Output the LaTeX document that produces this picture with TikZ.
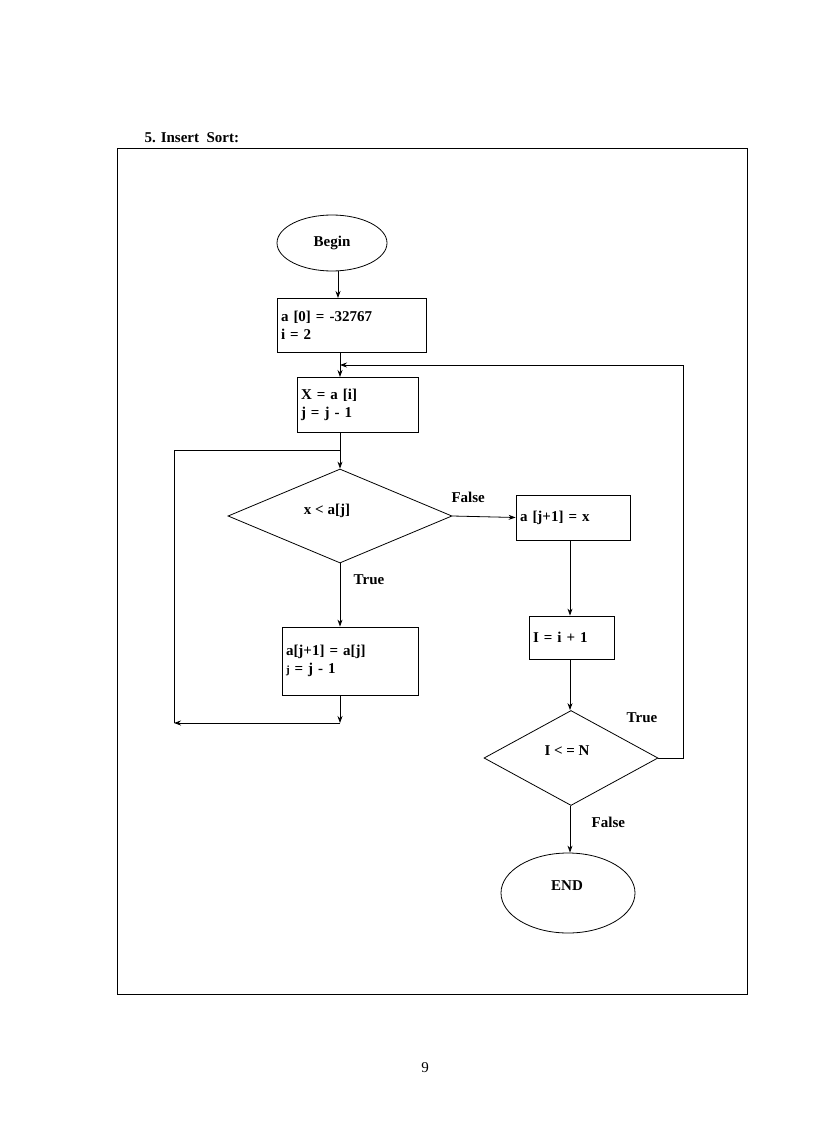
\documentclass[tikz,border=0pt]{standalone}
\usepackage{fontspec}
\setmainfont{Liberation Serif}
\usetikzlibrary{shapes.geometric,arrows.meta}
\begin{document}
\begin{tikzpicture}[x=1pt,y=-1pt,
  every node/.style={font=\fontsize{15}{18}\selectfont\bfseries},
  box/.style={draw,thick,align=left,inner sep=0pt},
  lab/.style={draw=none},
  arr/.style={thick,-{Stealth[length=7pt,width=5pt]}},
  ln/.style={thick}]
\path[use as bounding box] (0,0) rectangle (816,1123);
\node[anchor=west] (title) at (141,138) {5. Insert\ \ Sort:};
\draw[thick] (117,148) rectangle (747,994);
\node[draw,thick,ellipse,minimum width=110,minimum height=56] (begin) at (332,243) {Begin};
\node[box,minimum width=149,minimum height=54,text width=141] (b1) at (351.5,325) {a [0] = -32767\\ i = 2};
\node[box,minimum width=121,minimum height=55,text width=113] (b2) at (357.5,404.5) {X = a [i]\\ j = j - 1};
\node[draw,thick,diamond,aspect=2.38,minimum width=224,minimum height=94,inner sep=0pt] (d1) at (340,516) {};
\node at (327,511) {x < a[j]};
\node[box,minimum width=136,minimum height=68,text width=128] (b3) at (350,661) {a[j+1] = a[j]\\ {\fontsize{11}{18}\selectfont j} = j - 1};
\node[box,minimum width=114,minimum height=45,text width=106] (b4) at (573,517.5) {a [j+1] = x};
\node[box,minimum width=85,minimum height=43,text width=77] (b5) at (571.5,637.5) {I = i + 1};
\node[draw,thick,diamond,aspect=1.83,minimum width=174,minimum height=95,inner sep=0pt] (d2) at (571,758) {};
\node at (567,751) {I < = N};
\node[draw,thick,ellipse,minimum width=134,minimum height=80] (end) at (568,893) {};
\node at (567,886) {END};
\coordinate (c1) at (340,365);
\coordinate (c2) at (683,365);
\coordinate (c3) at (683,758);
\coordinate (j1) at (340,450);
\coordinate (j2) at (174,450);
\coordinate (j3) at (174,723);
\coordinate (j4) at (340,723);
\draw[arr] (338,271) -- (338,298);
\draw[arr] (340,352) -- (340,377);
\draw[arr] (d2.east) -- (c3) -- (c2) -- (c1);
\draw[arr] (340,432) -- (d1.north);
\draw[arr] (d1.south) -- (b3.north -| d1.south) node[lab,pos=0.25,right=10pt] {True};
\draw[arr] (d1.east) -- (b4.west) node[lab,pos=0.25,above=10pt] {False};
\draw[arr] (b3.south -| j4) -- (j4);
\draw[arr] (j4) -- (j3);
\draw[ln] (j3) -- (j2) -- (j1);
\draw[arr] (b4.south -| 570,0) -- (b5.north -| 570,0);
\draw[arr] (b5.south -| 570,0) -- (d2.north -| 570,0);
\draw[arr] (d2.south -| 570,0) -- (end.north -| 570,0) node[lab,pos=0.35,right=18pt] {False};
\node[lab] at (642,718) {True};
\node[font=\fontsize{15}{18}\selectfont] (pg) at (425,1068) {9};
\end{tikzpicture}
\end{document}
